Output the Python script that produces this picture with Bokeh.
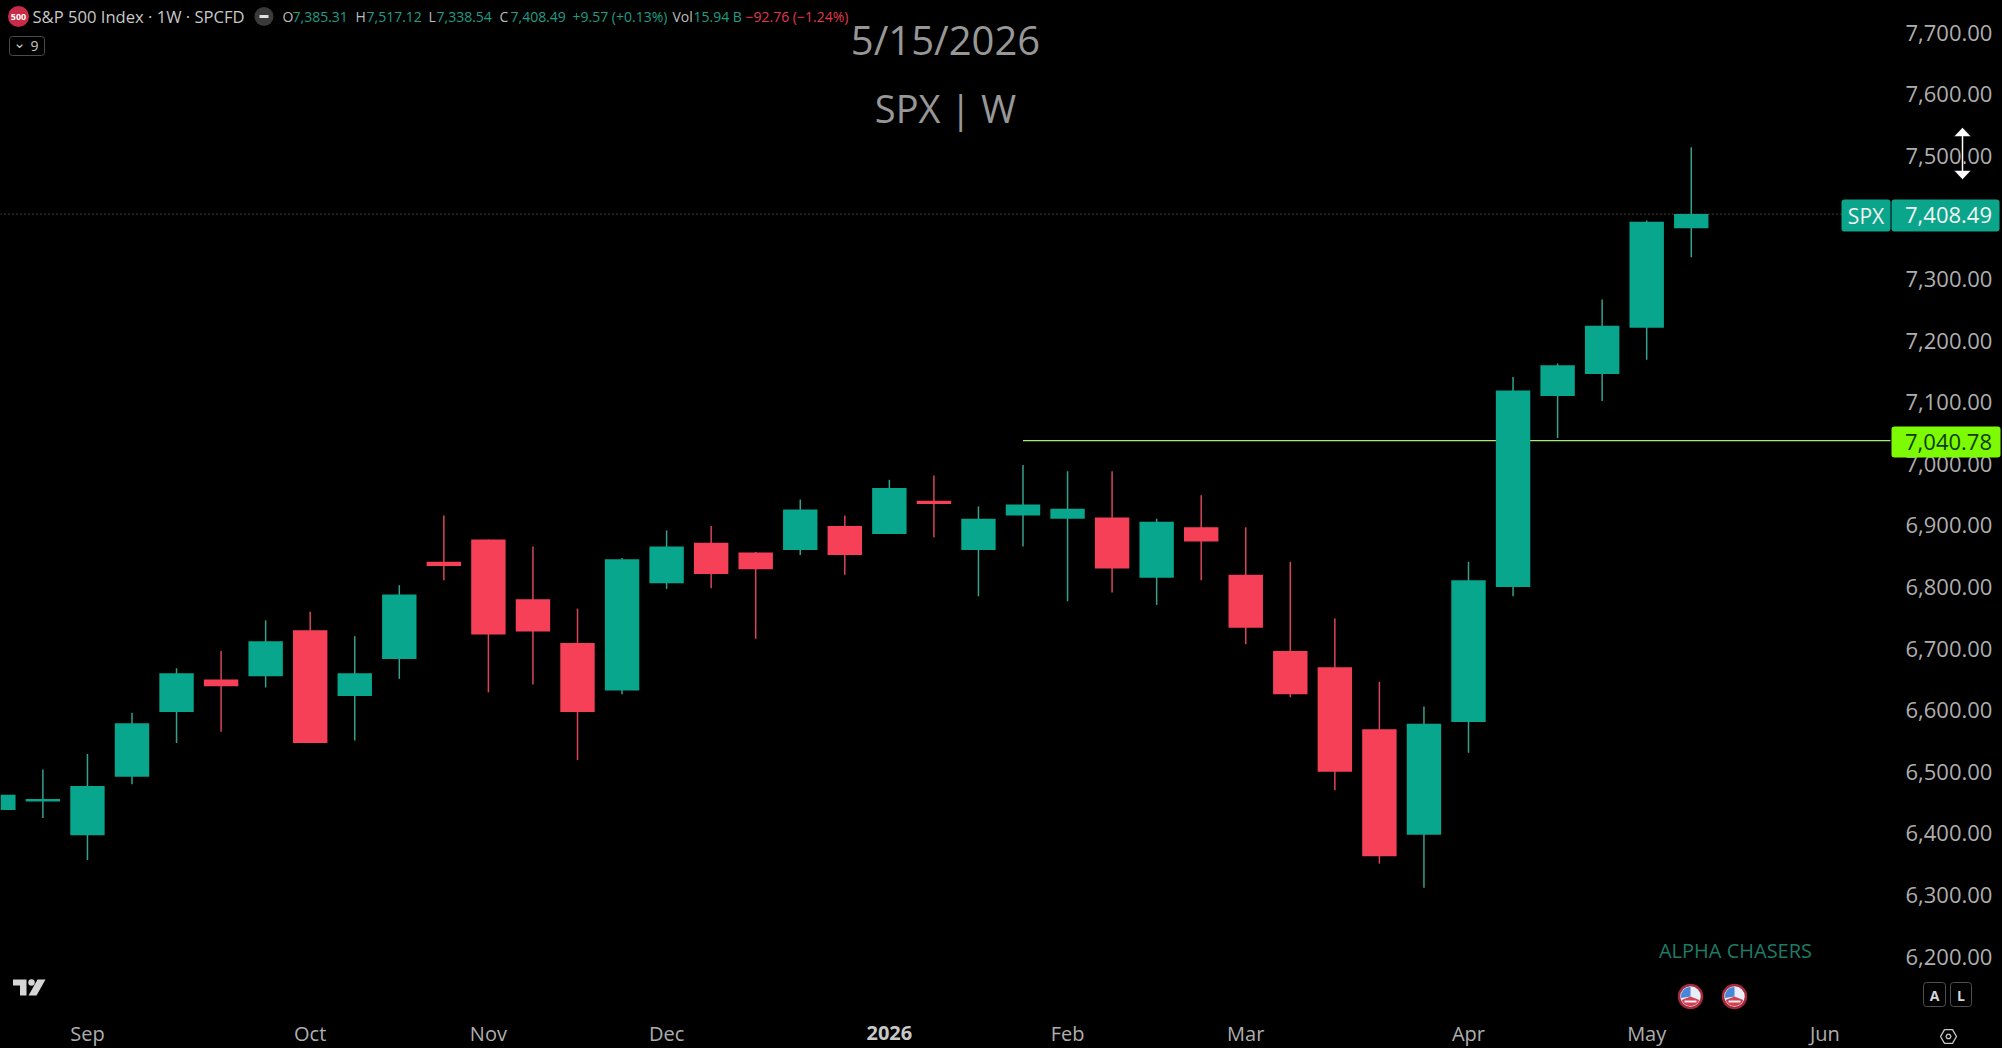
from bokeh.plotting import figure
from bokeh.embed import file_html
from bokeh.resources import INLINE
from bokeh.models import (ColumnDataSource, FixedTicker, NumeralTickFormatter, Label, BoxAnnotation,
                          PolyAnnotation, GlobalInlineStyleSheet, Range1d)
import math

# ---------- data ----------
week = list(range(39))
opens_ = [6441, 6455, 6400, 6495, 6600, 6653, 6658, 6733, 6626, 6686, 6844, 6880, 6783, 6712, 6635, 6809,
          6875, 6859, 6863, 6902, 6889, 6943, 6863, 6919, 6914, 6916, 6818, 6900, 6823, 6699, 6673, 6572,
          6401, 6584, 6803, 7113, 7149, 7224, 7385.31]
highs = [6466, 6507, 6532, 6599, 6671, 6699, 6749, 6763, 6723, 6806, 6919, 6880, 6869, 6768, 6850, 6895,
         6902, 6860, 6945, 6919, 6977, 6984, 6934, 7001, 6991, 6991, 6914, 6952, 6900, 6844, 6752, 6649,
         6609, 6844, 7144, 7166, 7270, 7398, 7517.12]
lows = [6443, 6428, 6360, 6483, 6550, 6568, 6640, 6550, 6554, 6654, 6814, 6632, 6645, 6522, 6629, 6800,
        6801, 6719, 6855, 6823, 6889, 6884, 6788, 6869, 6780, 6794, 6774, 6814, 6710, 6624, 6473, 6354,
        6315, 6534, 6788, 7045, 7105, 7172, 7338.54]
closes = [6466, 6459, 6480, 6582, 6663, 6642, 6715, 6550, 6663, 6791, 6837, 6726, 6731, 6600, 6848, 6869,
          6824, 6832, 6929, 6855, 6964, 6938, 6914, 6937, 6930, 6833, 6909, 6877, 6737, 6629, 6503, 6366,
          6581, 6814, 7122, 7163, 7227, 7396, 7408.49]
price_ticks = [6200, 6300, 6400, 6500, 6600, 6700, 6800, 6900, 7000, 7100, 7200, 7300, 7400, 7500, 7600, 7700]
date_ticks = [2, 7, 11, 15, 20, 24, 28, 33, 37, 41]
date_labels = ["Sep", "Oct", "Nov", "Dec", "2026", "Feb", "Mar", "Apr", "May", "Jun"]
last_close = 7408.49
level_price = 7040.78
level_start = 23
# -----------------------------------------------

FONT = "Open Sans"
GREEN, RED = "#07a68d", "#f64058"
WIDTH, HEIGHT, PANE_W, PANE_H = 2002, 1048, 1890, 1012
STEP, X0 = 44.55, -2.15
PX_PER_PT, Y0 = 0.616, 34.0

# reference-pixel to data helpers, for the overlay decorations only
def X(px):
    return (px - X0) / STEP
def Y(py):
    return 7700 - (py - Y0) / PX_PER_PT

p = figure(width=WIDTH, height=HEIGHT, output_backend="svg",
           toolbar_location=None, x_range=(X(0), X(WIDTH)), y_range=(Y(HEIGHT), Y(0)), y_axis_location="right",
           background_fill_color="#000000", border_fill_color="#000000", outline_line_color=None,
           min_border_left=0, min_border_top=0, min_border_right=0, min_border_bottom=0,
           stylesheets=[GlobalInlineStyleSheet(css="html,body{margin:0!important;background:#000;overflow:hidden}")])
p.grid.visible = False

# the scale's text sits 2px above the price it names, so it reads against a slightly shifted range
LABEL_SHIFT = 2 / PX_PER_PT
p.extra_y_ranges = {"scale": Range1d(Y(HEIGHT) - LABEL_SHIFT, Y(0) - LABEL_SHIFT)}

ya = p.yaxis[0]
ya.y_range_name = "scale"
ya.fixed_location = X(PANE_W)
ya.ticker = FixedTicker(ticks=price_ticks)
ya.formatter = NumeralTickFormatter(format="0,0.00")
ya.axis_line_color = None
ya.major_tick_line_color = None
ya.minor_tick_line_color = None
ya.major_label_standoff = 9
ya.major_label_text_color = "#aeaeae"
ya.major_label_text_font = FONT
ya.major_label_text_font_size = "22px"

xa = p.xaxis[0]
xa.fixed_location = Y(PANE_H)
xa.ticker = FixedTicker(ticks=date_ticks)
xa.major_label_overrides = {t: ("" if l.isdigit() else l) for t, l in zip(date_ticks, date_labels)}
xa.axis_line_color = None
xa.major_tick_line_color = None
xa.minor_tick_line_color = None
xa.major_label_standoff = 1
xa.major_label_text_color = "#aeaeae"
xa.major_label_text_font = FONT
xa.major_label_text_font_size = "20px"

src = ColumnDataSource(dict(
    x=week, o=opens_, h=highs, l=lows, c=closes,
    top=[max(a, b) for a, b in zip(opens_, closes)], bot=[min(a, b) for a, b in zip(opens_, closes)],
    col=[GREEN if c >= o else RED for o, c in zip(opens_, closes)],
    wick=["#35a08c" if c >= o else "#d8455a" for o, c in zip(opens_, closes)],
))

# last-price dotted line and level line
p.segment(x0=[X(0)], x1=[X(1841)], y0=[last_close], y1=[last_close], line_color="#7a7a7a", line_width=1,
          line_dash="1 3")
p.segment(x0=[level_start], x1=[X(PANE_W)], y0=[level_price], y1=[level_price], line_color="#a6ec7a", line_width=1.3)

p.segment("x", "h", "x", "l", source=src, line_color="wick", line_width=1.5)
p.vbar(x="x", top="top", bottom="bot", width=34.4 / STEP, source=src, fill_color="col", line_color=None)


def label(txt, px, py, size, color, align="left", baseline="middle", style="normal", font=FONT):
    p.add_layout(Label(x=X(px), y=Y(py), text=txt, text_font=font, text_font_size=f"{size}px", text_color=color,
                       text_align=align, text_baseline=baseline, text_font_style=style, level="overlay"))


def box(l, r, t, b, fill=None, line=None, radius=3):
    p.add_layout(BoxAnnotation(left=X(l), right=X(r), top=Y(t), bottom=Y(b), fill_color=fill,
                               fill_alpha=1 if fill else 0, line_color=line, line_alpha=1 if line else 0,
                               line_width=1, border_radius=radius, level="annotation"))


def poly(px_xs, px_ys, fill=None, line=None, lw=1.5):
    p.add_layout(PolyAnnotation(xs=[X(a) for a in px_xs], ys=[Y(b) for b in px_ys], fill_color=fill,
                                fill_alpha=1 if fill else 0, line_color=line, line_alpha=1 if line else 0,
                                line_width=lw, level="overlay"))


# header row
p.scatter([X(18)], [Y(16)], size=21, marker="circle", fill_color="#c92a45", line_color=None)
label("500", 18, 16, 9, "#ffffff", align="center", style="bold")
label("S&P 500 Index · 1W · SPCFD", 32, 16, 16.6, "#c8c8c8")
p.scatter([X(263.5)], [Y(16)], size=19, marker="circle", fill_color="#3a3a3a", line_color=None)
p.segment([X(259)], [Y(16)], [X(268)], [Y(16)], line_color="#e0e0e0", line_width=3)
HG, HR, HW = "#1f9e86", "#e2394f", "#bdbdbd"
for txt, px, col in [("O", 282, HW), ("7,385.31", 292, HG), ("H", 355, HW), ("7,517.12", 366, HG),
                     ("L", 428, HW), ("7,338.54", 436, HG), ("C", 499, HW), ("7,408.49", 510, HG),
                     ("+9.57 (+0.13%)", 572, HG), ("Vol", 672, HW), ("15.94 B", 693, HG),
                     ("−92.76 (−1.24%)", 745, HR)]:
    label(txt, px, 16, 14, col)

box(9, 44, 36, 55, line="#4a4a4a")
label("⌄", 19, 42, 15, "#c8c8c8", align="center", font="DejaVu Sans")
label("9", 34, 45, 14, "#c8c8c8", align="center")

# centre titles
label("5/15/2026", 945, 39, 40, "#979797", align="center")
label("SPX | W", 945, 107, 38, "#979797", align="center")

# year tick, heavier than the months
label(date_labels[date_labels.index("2026")], STEP * date_ticks[4] + X0, 1032, 20, "#c8c8c8", align="center", style="bold")

# last price tags
box(1841, 1890, 199, 231, fill="#0ba58c")
box(1891, 1999, 199, 231, fill="#0ba58c")
label("SPX", 1865.5, 215, 21, "#f0f0f0", align="center")
label(f"{last_close:,.2f}", 1948, 214, 22, "#f4f4f4", align="center")

# level tag
box(1891, 2000, 426, 457, fill="#7dfb04")
label(f"{level_price:,.2f}", 1948, 441, 22, "#0e3d08", align="center")

# watermark, flags
label("ALPHA CHASERS", 1735, 950, 20, "#1f7a66", align="center")
for fx in (1690, 1734):
    p.scatter([X(fx)], [Y(996)], size=23, marker="circle", fill_color="#e8eef7", line_color="#a32a3c", line_width=2.5)
    p.wedge([X(fx)], [Y(996)], radius=9.5, radius_units="screen", start_angle=math.pi * 0.5, end_angle=math.pi * 1.05,
            fill_color="#4a86d8", line_color=None)
    p.wedge([X(fx)], [Y(996)], radius=9.5, radius_units="screen", start_angle=math.pi * 1.12, end_angle=math.pi * 1.88,
            fill_color="#d5404f", line_color=None)
    p.segment([X(fx - 6)], [Y(1001)], [X(fx + 6)], [Y(1001)], line_color="#e8eef7", line_width=2)

# TradingView mark
poly([12.5, 26, 26, 19.5, 19.5, 12.5], [979, 979, 995, 995, 985, 985], fill="#d6d6d6")
poly([37, 45, 36, 28], [979, 979, 995, 995], fill="#d6d6d6")
p.scatter([X(31)], [Y(982)], size=6.5, marker="circle", fill_color="#d6d6d6", line_color=None)

# A / L buttons
box(1923, 1945, 982, 1006, line="#4f4f4f")
box(1950, 1971, 982, 1006, line="#4f4f4f")
label("A", 1934, 995, 14, "#d6d6d6", align="center", style="bold")
label("L", 1960.5, 995, 14, "#d6d6d6", align="center", style="bold")

# settings hexagon
hx, hy, R = 1948, 1036, 8
poly([hx + R * math.cos(a * math.pi / 3) for a in range(6)],
     [hy + R * math.sin(a * math.pi / 3) for a in range(6)], line="#c8c8c8", lw=1.3)
poly([hx + 2.5 * math.cos(a * math.pi / 3) for a in range(6)],
     [hy + 2.5 * math.sin(a * math.pi / 3) for a in range(6)], line="#c8c8c8", lw=1.3)

# resize cursor over the scale
poly([1962, 1970.5, 1963, 1963, 1970.5, 1962, 1953.5, 1961, 1961, 1953.5],
     [127, 136, 136, 170, 170, 179, 170, 170, 136, 136], fill="#ffffff", line="#000000", lw=0.5)

open("out.html", "w").write(file_html(p, INLINE))
